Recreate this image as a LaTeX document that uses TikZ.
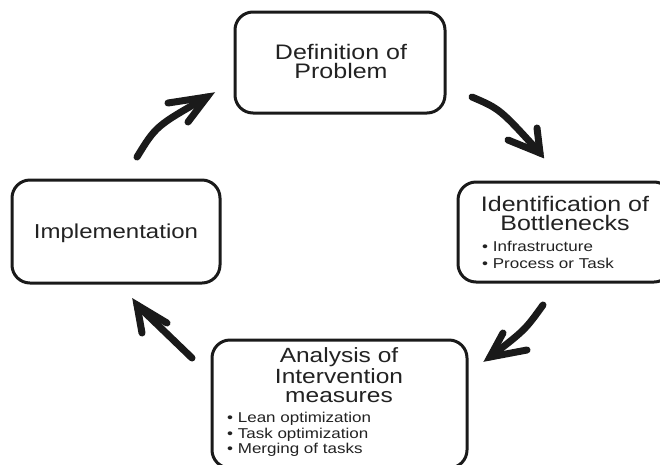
\documentclass[tikz,border=0pt]{standalone}
\usepackage{fontspec}
\setmainfont{Liberation Sans}
\usetikzlibrary{calc}
\newcommand{\vsq}[1]{\scalebox{1}[0.84]{#1}}
\definecolor{ink}{HTML}{1A1A1A}
\definecolor{txt}{HTML}{222222}
\begin{document}
\begin{tikzpicture}[x=1pt,y=-1pt,
  box/.style={draw=ink, line width=3pt, rounded corners=18pt, inner sep=0pt},
  ttl/.style={font=\fontsize{25}{25}\selectfont, text=txt, inner sep=0pt, anchor=base},
  bul/.style={font=\fontsize{17}{17}\selectfont, text=txt, inner sep=0pt, anchor=base west},
  arr/.style={draw=ink, line width=7pt, line cap=round, line join=round},
  head/.style={draw=ink, line width=7pt, line cap=round, line join=miter, miter limit=4}]
\useasboundingbox (0,0) rectangle (660,464);
\clip (0,0) rectangle (660,464);
\fill[white] (0,0) rectangle (660,464);

% boxes
\node[box, minimum width=210pt, minimum height=101pt] (def) at (340,62.5) {};
\node[box, minimum width=214pt, minimum height=100pt] (idf) at (565,232) {};
\node[box, minimum width=255pt, minimum height=128pt] (ana) at (339.5,404) {};
\node[box, minimum width=208pt, minimum height=103pt] (imp) at (116,231.5) {};

% texts
\node[ttl] (t1a) at (341,59) {\vsq{Definition of}};
\node[ttl] (t1b) at (341,78.5) {\vsq{Problem}};
\node[ttl] (t2a) at (565,211.5) {\vsq{Identification of}};
\node[ttl] (t2b) at (565,230.5) {\vsq{Bottlenecks}};
\node[bul] (t2c) at (482,251) {\vsq{\textbullet\ Infrastructure}};
\node[bul] (t2d) at (482,268) {\vsq{\textbullet\ Process or Task}};
\node[ttl, font=\fontsize{24.5}{24.5}\selectfont] (t3a) at (339,362) {\vsq{Analysis of}};
\node[ttl, font=\fontsize{24.5}{24.5}\selectfont] (t3b) at (339,383) {\vsq{Intervention}};
\node[ttl, font=\fontsize{24.5}{24.5}\selectfont] (t3c) at (339,402) {\vsq{measures}};
\node[bul] (t3d) at (227,422) {\vsq{\textbullet\ Lean optimization}};
\node[bul] (t3e) at (227,438) {\vsq{\textbullet\ Task optimization}};
\node[bul] (t3f) at (227,453) {\vsq{\textbullet\ Merging of tasks}};
\node[ttl, font=\fontsize{24}{24}\selectfont] (t4) at (116,238) {\vsq{Implementation}};

% arrow end points
\coordinate (a1s) at (137,157);  \coordinate (a1t) at (207,97);
\coordinate (a2s) at (472,97);   \coordinate (a2t) at (540,153);
\coordinate (a3s) at (543,305);  \coordinate (a3t) at (490,357);
\coordinate (a4s) at (192,358);  \coordinate (a4t) at (137,305);

% arrows
\draw[arr] (a1s) .. controls (156,126) .. (a1t);
\draw[head] (a1t) ++(-39,6) -- (a1t) -- ++(-19,25);
\draw[arr] (a2s) .. controls (500,109) .. (a2t);
\draw[head] (a2t) ++(-3,-25) -- (a2t) -- ++(-32,-13);
\draw[arr] (a3s) .. controls (525,330) .. (a3t);
\draw[head] (a3t) ++(13,-24) -- (a3t) -- ++(37,-7);
\draw[arr] (a4s) -- (a4t);
\draw[head] (a4t) ++(5,28) -- (a4t) -- ++(30,18);
\end{tikzpicture}
\end{document}
